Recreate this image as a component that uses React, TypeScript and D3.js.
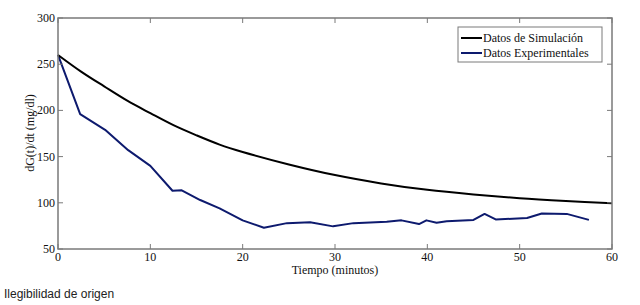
import React from "react";
import * as d3 from "d3";

const simTime = [0, 2.5, 5, 7.5, 10, 12.5, 15, 17.5, 20, 25, 30, 35, 40, 45, 50, 55, 60];
const simValues = [260, 242, 226, 210.5, 197, 184, 173, 163, 155, 141.5, 130, 121, 114, 109, 105, 102, 99.5];

const expTime = [0, 2.4, 5.1, 7.6, 10, 12.4, 13.4, 15.4, 17.5, 20, 22.3, 24.8, 27.3, 29.8, 32, 35.6, 37.2, 39.1, 39.9, 41, 42.1, 45, 46.2, 47.4, 50.8, 52.4, 55.1, 57.5];
const expValues = [260, 196, 179, 157, 140, 113, 113.5, 103, 94, 81, 73, 78, 79, 74.5, 78, 79.5, 81, 77, 81, 78.5, 80, 81.5, 88, 82, 83.5, 88.5, 88, 81.5];

const xTicks = [0, 10, 20, 30, 40, 50, 60];
const yTicks = [50, 100, 150, 200, 250, 300];

const seriesNames = ["Datos de Simulación", "Datos Experimentales"];
const seriesColors = ["#000000", "#0d1a6e"];

export default function App() {
  const W = 640, H = 305;
  const L = 58, R = 612, T = 18, B = 249;
  const x = d3.scaleLinear().domain([0, 60]).range([L, R]);
  const y = d3.scaleLinear().domain([50, 300]).range([B, T]);
  const simLine = d3.line<number>().x((_, i) => x(simTime[i])).y((d) => y(d)).curve(d3.curveCatmullRom);
  const expLine = d3.line<number>().x((_, i) => x(expTime[i])).y((d) => y(d));
  const axisColor = "#7a7a7a";
  const serifStyle = { fontFamily: '"Times New Roman", "Liberation Serif", Times, serif' };
  const tl = 5;
  return (
    <svg width={W} height={H} style={{ position: "absolute", left: 0, top: 0, background: "#fff" }}>
      <rect x={0} y={0} width={W} height={H} fill="#fff" />
      <path d={expLine(expValues) || ""} fill="none" stroke={seriesColors[1]} strokeWidth={2} strokeLinejoin="round" />
      <path d={simLine(simValues) || ""} fill="none" stroke={seriesColors[0]} strokeWidth={2} />
      <rect x={L} y={T} width={R - L} height={B - T} fill="none" stroke={axisColor} strokeWidth={1.5} />
      {xTicks.map((t) => (
        <g key={"x" + t}>
          <line x1={x(t)} x2={x(t)} y1={B} y2={B - tl} stroke={axisColor} strokeWidth={1} />
          <line x1={x(t)} x2={x(t)} y1={T} y2={T + tl} stroke={axisColor} strokeWidth={1} />
          <text x={x(t)} y={261} textAnchor="middle" style={serifStyle} fontSize={12} fill="#111">{t}</text>
        </g>
      ))}
      {yTicks.map((t) => (
        <g key={"y" + t}>
          <line x1={L} x2={L + tl} y1={y(t)} y2={y(t)} stroke={axisColor} strokeWidth={1} />
          <line x1={R} x2={R - tl} y1={y(t)} y2={y(t)} stroke={axisColor} strokeWidth={1} />
          <text x={55} y={y(t) + 4} textAnchor="end" style={serifStyle} fontSize={12} fill="#111">{t}</text>
        </g>
      ))}
      <text x={335} y={274} textAnchor="middle" style={serifStyle} fontSize={12} fill="#111">Tiempo (minutos)</text>
      <text transform="translate(34,133) rotate(-90)" textAnchor="middle" style={serifStyle} fontSize={12} fill="#111">dG(t)/dt (mg/dl)</text>
      <rect x={458} y={27} width={144} height={35} fill="#fff" stroke={axisColor} strokeWidth={1} />
      {seriesNames.map((n, i) => (
        <g key={n}>
          <line x1={461} x2={482} y1={38 + i * 15} y2={38 + i * 15} stroke={seriesColors[i]} strokeWidth={2} />
          <text x={483} y={42 + i * 15} style={serifStyle} fontSize={12} fill="#111">{n}</text>
        </g>
      ))}
      <text x={4} y={298} style={{ fontFamily: '"Liberation Sans", Arial, sans-serif' }} fontSize={12} fill="#222">Ilegibilidad de origen</text>
    </svg>
  );
}
